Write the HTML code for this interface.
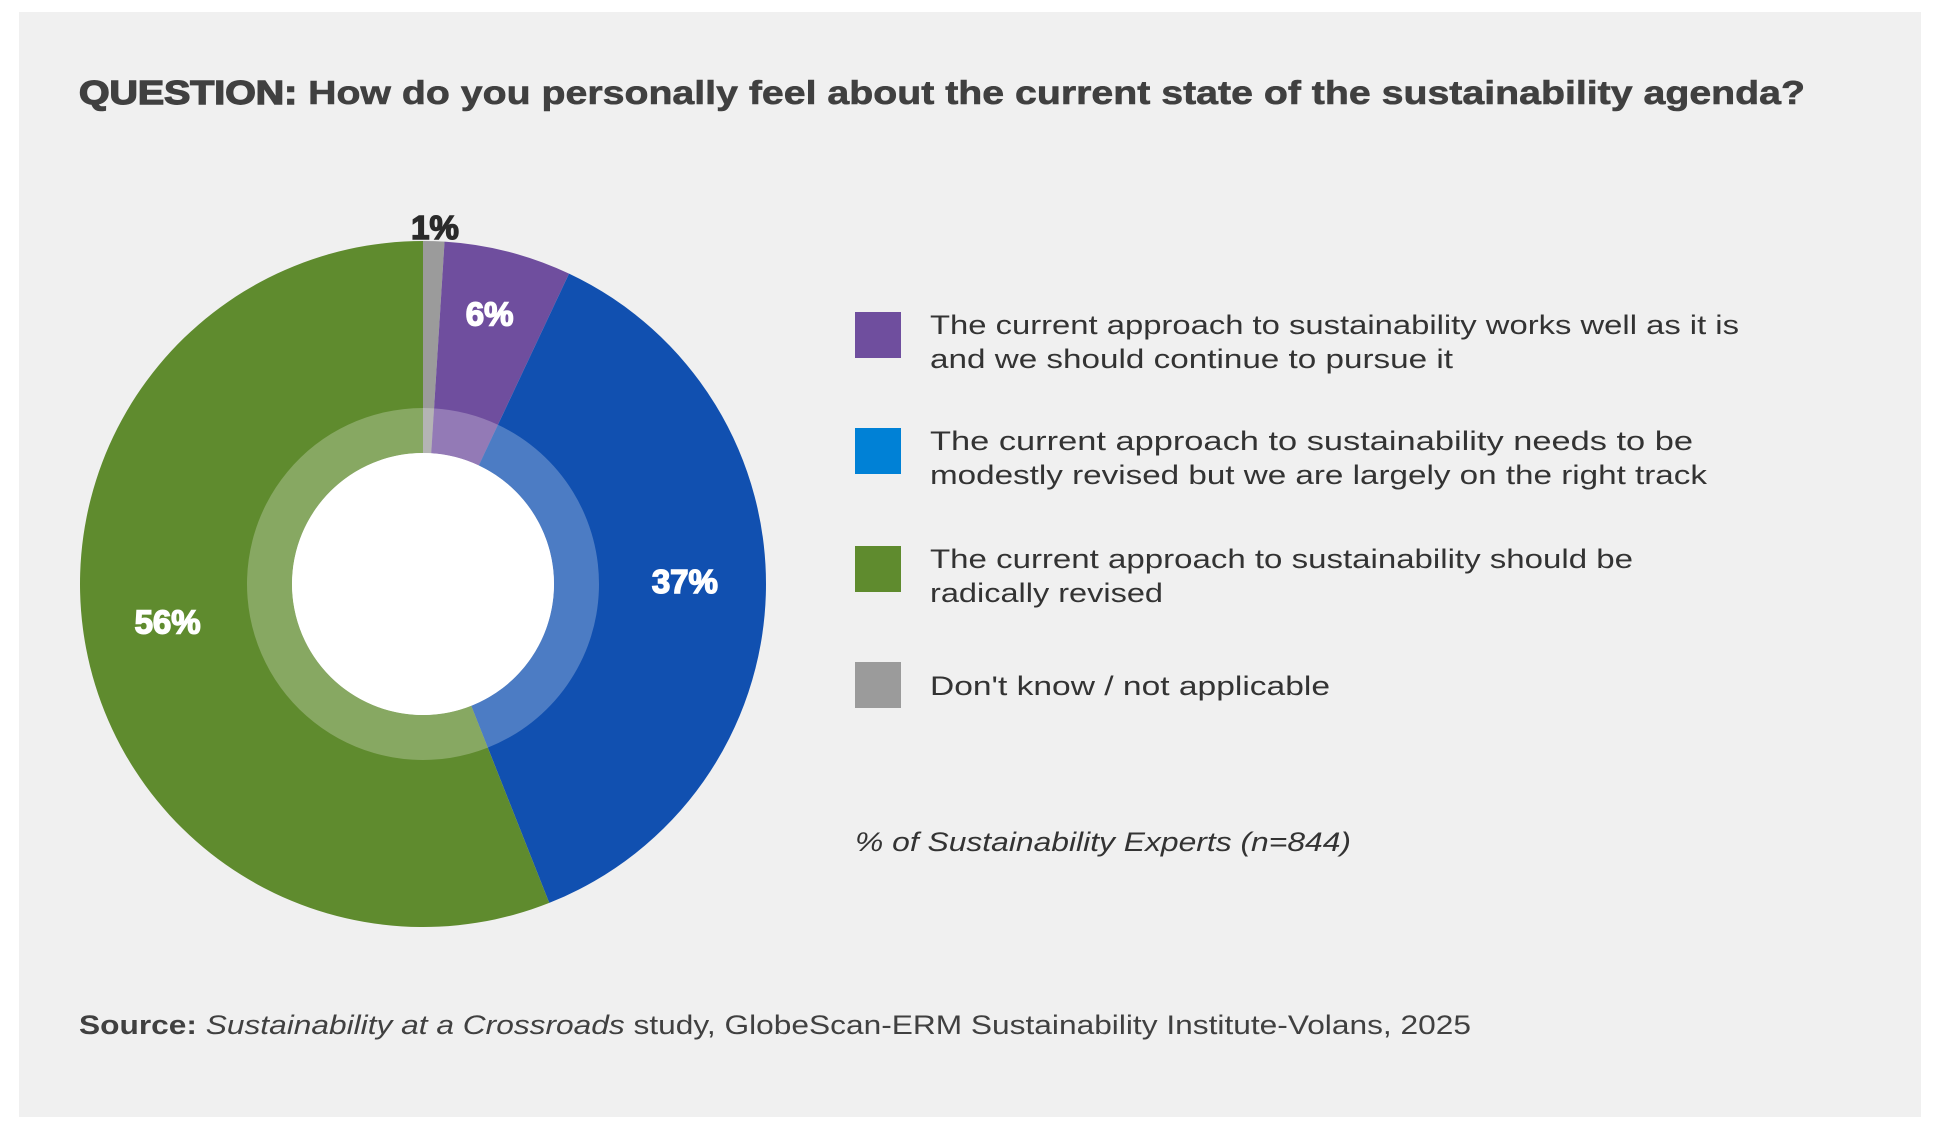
<!DOCTYPE html>
<html><head><meta charset="utf-8"><style>
html,body{margin:0;padding:0;background:#fff;}
svg{display:block;}
text{font-family:"Liberation Sans",sans-serif;}
</style></head><body>
<svg id="chart" width="1940" height="1132" viewBox="0 0 1940 1132">
<rect x="19" y="12" width="1902" height="1105" fill="#f0f0f0"/>
<text x="79" y="104" font-size="33" fill="#404040" stroke="#404040" stroke-width="0.6" textLength="1726" lengthAdjust="spacingAndGlyphs"><tspan font-weight="900" stroke-width="1.4">QUESTION:</tspan><tspan font-weight="bold"> How do you personally feel about the current state of the sustainability agenda?</tspan></text>
<g id="slices"></g>
<g id="labels"></g>
<g id="legend"></g>
<text x="855" y="851" font-size="27" font-style="italic" fill="#333" textLength="496" lengthAdjust="spacingAndGlyphs">% of Sustainability Experts (n=844)</text>
<text x="79" y="1034" font-size="27" fill="#404040" textLength="1392" lengthAdjust="spacingAndGlyphs"><tspan font-weight="bold">Source:</tspan> <tspan font-style="italic">Sustainability at a Crossroads</tspan> study, GlobeScan-ERM Sustainability Institute-Volans, 2025</text>
</svg>
<script>
const categories = ["Don't know / not applicable","Works well as it is","Modestly revised","Radically revised"];
const values = [1, 6, 37, 56];
const labelText = ["1%","6%","37%","56%"];
const colors = ["#9b9b9b","#6f4e9e","#1150b0","#5f8b2e"];
const legendLines = [
  ["The current approach to sustainability works well as it is","and we should continue to pursue it"],
  ["The current approach to sustainability needs to be","modestly revised but we are largely on the right track"],
  ["The current approach to sustainability should be","radically revised"],
  ["Don't know / not applicable"]
];
const legendColors = ["#6f4e9e","#0081d6","#5f8b2e","#9b9b9b"];
const legendWidths = [[809,523],[763,777],[703,233],[400]];

const NS = "http://www.w3.org/2000/svg";
const cx = 423, cy = 584, R = 343, Rm = 176, Rh = 131;
const total = values.reduce((a,b)=>a+b,0);
function angle(v){ return v/total*2*Math.PI; }
function pt(a,r){ return [cx + r*Math.sin(a), cy - r*Math.cos(a)]; }
function sector(a0,a1,r0,r1){
  const large = (a1-a0) > Math.PI ? 1 : 0;
  const p0=pt(a0,r1), p1=pt(a1,r1), p2=pt(a1,r0), p3=pt(a0,r0);
  return `M${p0} A${r1},${r1} 0 ${large} 1 ${p1} L${p2} A${r0},${r0} 0 ${large} 0 ${p3} Z`;
}
const sg = document.getElementById('slices');
const lg = document.getElementById('labels');
let cum = 0;
const labelR = [R+20, 268, 262, 260];
values.forEach((v,i)=>{
  const a0 = angle(cum), a1 = angle(cum+v);
  const p = document.createElementNS(NS,'path');
  p.setAttribute('d', sector(a0,a1,Rh,R));
  p.setAttribute('fill', colors[i]);
  
  
  sg.appendChild(p);
  const o = document.createElementNS(NS,'path');
  o.setAttribute('d', sector(a0,a1,Rh,Rm));
  o.setAttribute('fill', '#ffffff');
  o.setAttribute('fill-opacity', '0.25');
  
  
  sg.appendChild(o);
  const mid = (a0+a1)/2;
  let [lx,ly] = pt(mid, labelR[i]);
  let dy = 1;
  if(i===0){ lx = cx+12; ly = cy-R-13; dy = 11; }
  const t = document.createElementNS(NS,'text');
  t.setAttribute('x', lx); t.setAttribute('y', ly+dy);
  t.setAttribute('text-anchor','middle');
  t.setAttribute('font-size','33');
  t.setAttribute('font-weight','900');
  const c = i===0 ? '#2b2b2b' : '#ffffff';
  t.setAttribute('fill', c);
  t.setAttribute('stroke', c);
  t.setAttribute('stroke-width', '1.5');
  t.textContent = labelText[i];
  
  
  lg.appendChild(t);
  cum += v;
});
const hole = document.createElementNS(NS,'circle');
hole.setAttribute('cx',cx); hole.setAttribute('cy',cy); hole.setAttribute('r',Rh);
hole.setAttribute('fill','#ffffff');


sg.appendChild(hole);

const leg = document.getElementById('legend');
const rowTops = [312,428,546,662];
legendLines.forEach((lines,i)=>{
  const g = document.createElementNS(NS,'g');
  
  
  const r = document.createElementNS(NS,'rect');
  r.setAttribute('x',855); r.setAttribute('y',rowTops[i]);
  r.setAttribute('width',46); r.setAttribute('height',46);
  r.setAttribute('fill',legendColors[i]);
  
  
  g.appendChild(r);
  lines.forEach((ln,j)=>{
    const t = document.createElementNS(NS,'text');
    const base = lines.length===1 ? rowTops[i]+33 : rowTops[i]+22+j*34;
    t.setAttribute('x',930); t.setAttribute('y',base);
    t.setAttribute('font-size','27');
    t.setAttribute('fill','#333333');
    t.setAttribute('textLength', legendWidths[i][j]);
    t.setAttribute('lengthAdjust','spacingAndGlyphs');
    t.textContent = ln;
    
    
    g.appendChild(t);
  });
  leg.appendChild(g);
});
</script>
</body></html>
